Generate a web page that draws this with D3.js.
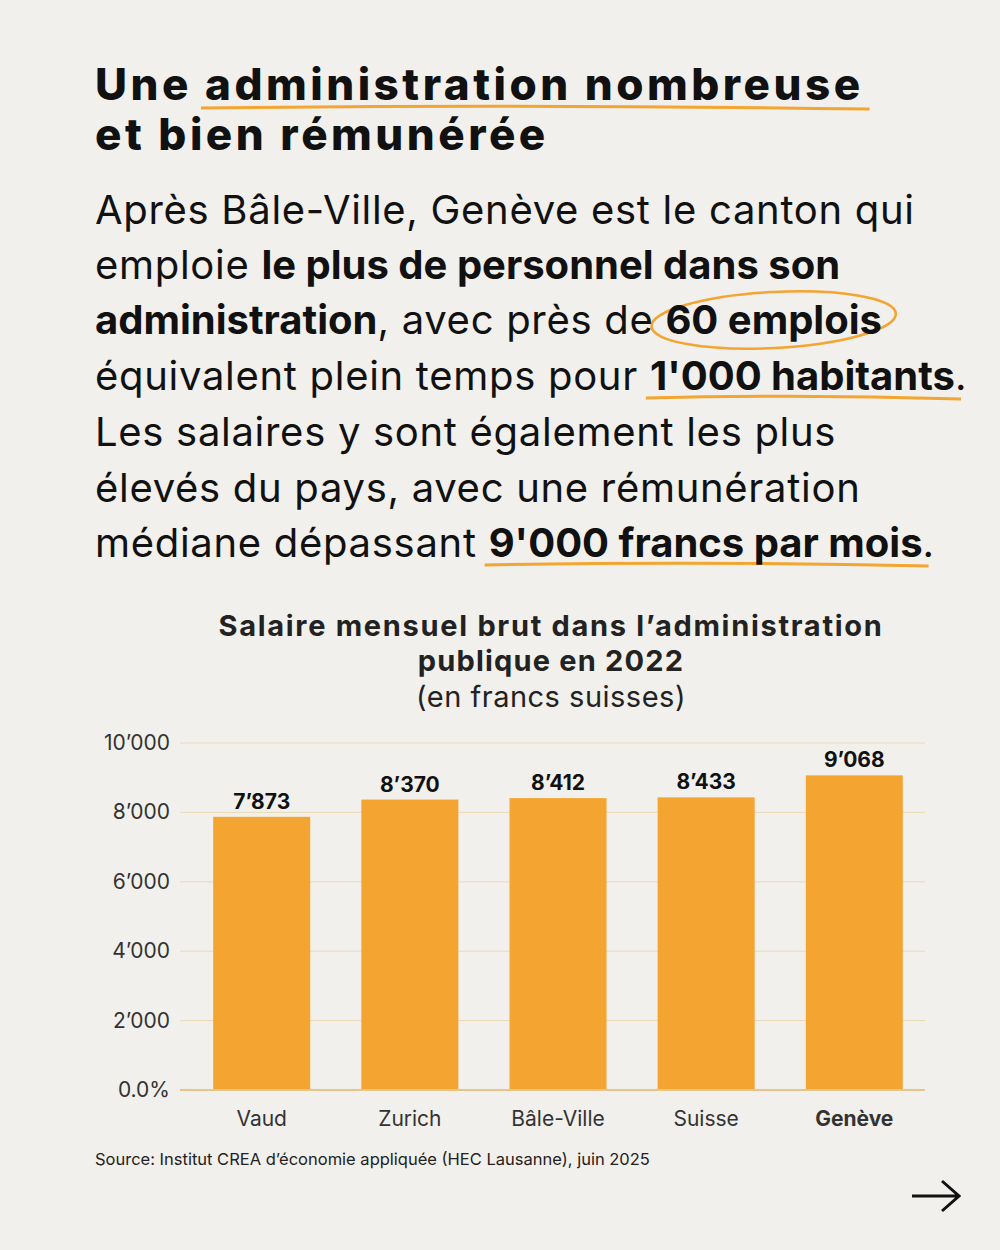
<!DOCTYPE html>
<html><head><meta charset="utf-8">
<script src="https://cdn.jsdelivr.net/npm/d3@7"></script>
<style>body{margin:0;background:#f2f0ec}svg{display:block}</style>
</head><body>
<script>
var categories = ["Vaud", "Zurich", "Bâle-Ville", "Suisse", "Genève"]
var salaries = [7873, 8370, 8412, 8433, 9068]
var valueLabels = ["7’873", "8’370", "8’412", "8’433", "9’068"]
var yTicks = [0, 2000, 4000, 6000, 8000, 10000]
var yTickLabels = ["0.0%", "2’000", "4’000", "6’000", "8’000", "10’000"]

var W = 1000, H = 1250, orange = "#f4a431"
var svg = d3.select("body").append("svg").attr("width", W).attr("height", H)
svg.append("rect").attr("width", W).attr("height", H).attr("fill", "#f2f0ec")

var font = "Inter, 'Noto Sans', sans-serif"
var marks = svg.append("g")

// rich text lines: segments [text, bold, mark]
function line(y, size, weight, spacing, boldSpacing, segs){
  var t = svg.append("text").attr("x", 95).attr("y", y)
    .attr("font-family", font).attr("font-size", size).attr("fill", "#111")
  segs.forEach(function(s){
    var sp = t.append("tspan").text(s[0]).attr("font-weight", s[1] ? Math.max(700, weight) : weight)
      .attr("letter-spacing", s[1] ? boldSpacing : spacing)
    if (s[2]) {
      var b = sp.node().getBBox()
      if (s[2] == "u") marks.append("path")
        .attr("d", "M" + (b.x-4) + "," + (y+8) + " Q" + (b.x+b.width/2) + "," + (y+4) + " " + (b.x+b.width+6) + "," + (y+9))
        .attr("stroke", orange).attr("stroke-width", 3).attr("fill", "none")
      if (s[2] == "o") marks.append("ellipse")
        .attr("cx", b.x + b.width/2).attr("cy", y-14).attr("rx", b.width/2+14).attr("ry", 28)
        .attr("stroke", orange).attr("stroke-width", 2.5).attr("fill", "none")
        .attr("transform", "rotate(-3," + (b.x+b.width/2) + "," + (y-14) + ")")
    }
  })
}
line(100, 44, 800, 3.5, 3.5, [["Une "], ["administration nombreuse", 1, "u"]])
line(150, 44, 800, 3.5, 3.5, [["et bien rémunérée", 1]])
line(224, 40, 400, 0.7, 0, [["Après Bâle-Ville, Genève est le canton qui"]])
line(279, 40, 400, 0.7, 0, [["emploie "], ["le plus de personnel dans son", 1]])
line(334, 40, 400, 0.7, 0, [["administration", 1], [", avec près de "], ["60 emplois", 1, "o"]])
line(390, 40, 400, 0.7, 0, [["équivalent plein temps pour "], ["1'000 habitants", 1, "u"], ["."]])
line(446, 40, 400, 0.7, 0, [["Les salaires y sont également les plus"]])
line(502, 40, 400, 0.7, 0, [["élevés du pays, avec une rémunération"]])
line(557, 40, 400, 0.7, 0, [["médiane dépassant "], ["9'000 francs par mois", 1, "u"], ["."]])

// chart title
var ct = [["Salaire mensuel brut dans l’administration", 700, 636, 1.7], ["publique en 2022", 700, 671, 1.2], ["(en francs suisses)", 400, 707, 0.5]]
ct.forEach(function(c){
  svg.append("text").attr("x", 551).attr("y", c[2]).attr("text-anchor", "middle")
    .attr("font-family", font).attr("font-size", 29).attr("font-weight", c[1])
    .attr("letter-spacing", c[3]).attr("fill", "#222").text(c[0])
})

var x = d3.scaleBand().domain(categories).range([188, 928]).paddingInner(0.345).paddingOuter(0.17)
var y = d3.scaleLinear().domain([0, 10000]).range([1090, 743])

svg.append("g").selectAll("line").data(yTicks).join("line")
  .attr("x1", 180).attr("x2", 925).attr("y1", d => y(d)).attr("y2", d => y(d))
  .attr("stroke", "#ecd9b3").attr("stroke-width", 1)
svg.append("g").selectAll("text").data(yTicks).join("text")
  .attr("x", 170).attr("y", d => y(d) + 7).attr("text-anchor", "end")
  .attr("font-family", font).attr("font-size", 21).attr("fill", "#333")
  .text((d, i) => yTickLabels[i])

svg.append("g").selectAll("rect").data(salaries).join("rect")
  .attr("x", (d, i) => x(categories[i])).attr("width", x.bandwidth())
  .attr("y", d => y(d)).attr("height", d => y(0) - y(d)).attr("fill", orange)
svg.append("line").attr("x1", 180).attr("x2", 925).attr("y1", y(0)).attr("y2", y(0))
  .attr("stroke", "#e6c48a").attr("stroke-width", 2)

svg.append("g").selectAll("text").data(salaries).join("text")
  .attr("x", (d, i) => x(categories[i]) + x.bandwidth()/2).attr("y", d => y(d) - 8)
  .attr("text-anchor", "middle").attr("font-family", font).attr("font-size", 21)
  .attr("font-weight", 700).attr("fill", "#111").text((d, i) => valueLabels[i])

svg.append("g").selectAll("text").data(categories).join("text")
  .attr("x", d => x(d) + x.bandwidth()/2).attr("y", 1126).attr("text-anchor", "middle")
  .attr("font-family", font).attr("font-size", 21).attr("fill", "#333")
  .attr("font-weight", d => d == "Genève" ? 700 : 400).text(d => d)

svg.append("text").attr("x", 95).attr("y", 1165).attr("font-family", font).attr("font-size", 16.5)
  .attr("fill", "#222").text("Source: Institut CREA d’économie appliquée (HEC Lausanne), juin 2025")

svg.append("path").attr("d", "M912,1196 H958 M942,1181 L959,1196 L942,1211")
  .attr("stroke", "#111").attr("stroke-width", 3).attr("fill", "none")
</script>
</body></html>
